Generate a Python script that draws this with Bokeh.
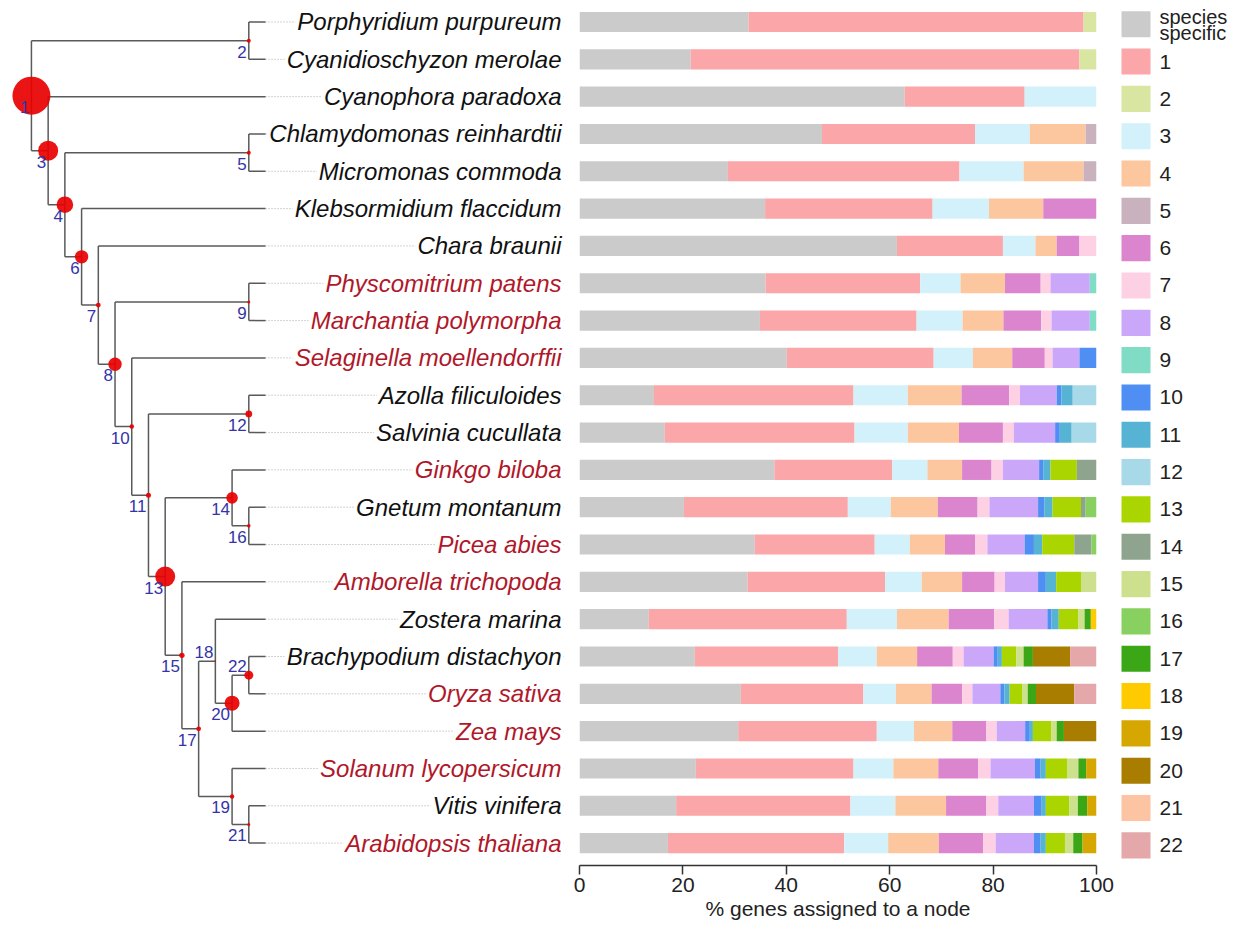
from bokeh.plotting import figure
from bokeh.models import Range1d, FixedTicker, ColumnDataSource
from bokeh.layouts import row
from bokeh.embed import file_html
from bokeh.resources import INLINE
from bokeh.core.properties import value

# ---------------- data ----------------
species = [
    "Porphyridium purpureum", "Cyanidioschyzon merolae", "Cyanophora paradoxa",
    "Chlamydomonas reinhardtii", "Micromonas commoda", "Klebsormidium flaccidum",
    "Chara braunii", "Physcomitrium patens", "Marchantia polymorpha",
    "Selaginella moellendorffii", "Azolla filiculoides", "Salvinia cucullata",
    "Ginkgo biloba", "Gnetum montanum", "Picea abies", "Amborella trichopoda",
    "Zostera marina", "Brachypodium distachyon", "Oryza sativa", "Zea mays",
    "Solanum lycopersicum", "Vitis vinifera", "Arabidopsis thaliana",
]
highlighted = [
    "Physcomitrium patens", "Marchantia polymorpha", "Selaginella moellendorffii",
    "Ginkgo biloba", "Picea abies", "Amborella trichopoda", "Oryza sativa",
    "Zea mays", "Solanum lycopersicum", "Arabidopsis thaliana",
]

categories = ["species specific"] + [str(i) for i in range(1, 23)]
cat_colors = [
    "#cbcbcb", "#fba6a8", "#d8e6a2", "#d3f1fa", "#fcc79f", "#c9b1bd",
    "#dc85cf", "#fdd1e3", "#cba7fa", "#80dcc5", "#4f8ff4", "#56b3d4",
    "#a8d9e8", "#abd500", "#8fa48e", "#cde08e", "#88d05f", "#3ba716",
    "#fdcb00", "#d5a700", "#a87d00", "#fcc4a2", "#e4a7aa",
]

# % genes per node, one list per category (rows follow `species`)
pct_ss  = [32.7, 21.5, 62.9, 46.9, 28.7, 35.9, 61.4, 36.0, 34.9, 40.1, 14.4, 16.5, 37.7, 20.2, 33.9, 32.5, 13.4, 22.3, 31.2, 30.7, 22.5, 18.7, 17.1]
pct_n1  = [64.8, 75.2, 23.2, 29.6, 44.8, 32.4, 20.5, 29.9, 30.3, 28.4, 38.6, 36.7, 22.8, 31.7, 23.2, 26.6, 38.3, 27.7, 23.7, 26.8, 30.5, 33.7, 34.1]
pct_n2  = [2.5, 3.3, 0, 0, 0, 0, 0, 0, 0, 0, 0, 0, 0, 0, 0, 0, 0, 0, 0, 0, 0, 0, 0]
pct_n3  = [0, 0, 13.9, 10.6, 12.4, 10.9, 6.3, 7.8, 8.9, 7.6, 10.5, 10.3, 6.8, 8.3, 6.8, 7.1, 9.7, 7.5, 6.3, 7.2, 7.7, 8.7, 8.5]
pct_n4  = [0, 0, 0, 10.8, 11.6, 10.5, 4.1, 8.6, 7.9, 7.6, 10.4, 9.9, 6.7, 9.1, 6.8, 7.8, 10.0, 7.8, 6.9, 7.4, 8.7, 9.8, 9.8]
pct_n5  = [0, 0, 0, 2.1, 2.5, 0, 0, 0, 0, 0, 0, 0, 0, 0, 0, 0, 0, 0, 0, 0, 0, 0, 0]
pct_n6  = [0, 0, 0, 0, 0, 10.3, 4.4, 6.9, 7.3, 6.3, 9.2, 8.5, 5.7, 7.7, 5.8, 6.3, 8.8, 6.9, 5.9, 6.6, 7.7, 7.8, 8.6]
pct_n7  = [0, 0, 0, 0, 0, 0, 3.3, 1.9, 2.0, 1.5, 2.1, 2.1, 2.2, 2.3, 2.4, 2.0, 2.8, 2.1, 2.0, 2.0, 2.4, 2.3, 2.4]
pct_n8  = [0, 0, 0, 0, 0, 0, 0, 7.6, 7.4, 5.2, 7.1, 8.0, 7.0, 9.4, 7.2, 6.4, 7.5, 5.8, 5.4, 5.5, 8.6, 6.9, 7.4]
pct_n9  = [0, 0, 0, 0, 0, 0, 0, 1.3, 1.3, 0, 0, 0, 0, 0, 0, 0, 0, 0, 0, 0, 0, 0, 0]
pct_n10 = [0, 0, 0, 0, 0, 0, 0, 0, 0, 3.3, 0.9, 0.9, 0.8, 1.2, 1.8, 1.5, 0.8, 0.8, 0.8, 0.9, 1.1, 1.5, 1.3]
pct_n11 = [0, 0, 0, 0, 0, 0, 0, 0, 0, 0, 2.2, 2.3, 1.4, 1.6, 1.6, 2.0, 1.4, 0.8, 1.0, 0.6, 1.0, 0.8, 1.0]
pct_n12 = [0, 0, 0, 0, 0, 0, 0, 0, 0, 0, 4.6, 4.8, 0, 0, 0, 0, 0, 0, 0, 0, 0, 0, 0]
pct_n13 = [0, 0, 0, 0, 0, 0, 0, 0, 0, 0, 0, 0, 5.1, 5.5, 6.2, 4.8, 3.8, 2.8, 2.5, 3.6, 4.2, 4.5, 3.7]
pct_n14 = [0, 0, 0, 0, 0, 0, 0, 0, 0, 0, 0, 0, 3.8, 0.9, 3.3, 0, 0, 0, 0, 0, 0, 0, 0]
pct_n15 = [0, 0, 0, 0, 0, 0, 0, 0, 0, 0, 0, 0, 0, 0, 0, 3.0, 1.2, 1.4, 1.0, 1.0, 2.1, 1.7, 1.6]
pct_n16 = [0, 0, 0, 0, 0, 0, 0, 0, 0, 0, 0, 0, 0, 2.1, 1.0, 0, 0, 0, 0, 0, 0, 0, 0]
pct_n17 = [0, 0, 0, 0, 0, 0, 0, 0, 0, 0, 0, 0, 0, 0, 0, 0, 1.2, 1.8, 1.6, 1.4, 1.5, 1.8, 1.8]
pct_n18 = [0, 0, 0, 0, 0, 0, 0, 0, 0, 0, 0, 0, 0, 0, 0, 0, 1.1, 0, 0, 0, 0, 0, 0]
pct_n19 = [0, 0, 0, 0, 0, 0, 0, 0, 0, 0, 0, 0, 0, 0, 0, 0, 0, 0, 0, 0, 2.0, 1.8, 2.7]
pct_n20 = [0, 0, 0, 0, 0, 0, 0, 0, 0, 0, 0, 0, 0, 0, 0, 0, 0, 7.2, 7.4, 6.3, 0, 0, 0]
pct_n21 = [0, 0, 0, 0, 0, 0, 0, 0, 0, 0, 0, 0, 0, 0, 0, 0, 0, 0, 0, 0, 0, 0, 0]
pct_n22 = [0, 0, 0, 0, 0, 0, 0, 0, 0, 0, 0, 0, 0, 0, 0, 0, 0, 5.1, 4.3, 0, 0, 0, 0]

series = [pct_ss, pct_n1, pct_n2, pct_n3, pct_n4, pct_n5, pct_n6, pct_n7, pct_n8,
          pct_n9, pct_n10, pct_n11, pct_n12, pct_n13, pct_n14, pct_n15, pct_n16,
          pct_n17, pct_n18, pct_n19, pct_n20, pct_n21, pct_n22]

# tree topology (internal node id -> children; strings are leaves)
tree_children = {
    1: [2, 3],
    2: ["Porphyridium purpureum", "Cyanidioschyzon merolae"],
    3: ["Cyanophora paradoxa", 4],
    4: [5, 6],
    5: ["Chlamydomonas reinhardtii", "Micromonas commoda"],
    6: ["Klebsormidium flaccidum", 7],
    7: ["Chara braunii", 8],
    8: [9, 10],
    9: ["Physcomitrium patens", "Marchantia polymorpha"],
    10: ["Selaginella moellendorffii", 11],
    11: [12, 13],
    12: ["Azolla filiculoides", "Salvinia cucullata"],
    13: [14, 15],
    14: ["Ginkgo biloba", 16],
    16: ["Gnetum montanum", "Picea abies"],
    15: ["Amborella trichopoda", 17],
    17: [18, 19],
    18: ["Zostera marina", 20],
    20: [22, "Zea mays"],
    22: ["Brachypodium distachyon", "Oryza sativa"],
    19: ["Solanum lycopersicum", 21],
    21: ["Vitis vinifera", "Arabidopsis thaliana"],
}
# circle radius (px) drawn at each node
node_radius = {1: 19, 2: 2, 3: 10, 4: 8.3, 5: 2, 6: 6.7, 7: 2.4, 8: 6.7, 9: 1.5,
               10: 2.3, 11: 2.5, 12: 3.4, 13: 10, 14: 5.8, 15: 2.7, 16: 1.8,
               17: 2.4, 18: 0.8, 19: 2.2, 20: 7.5, 21: 1.5, 22: 4.5}
labels_above = [18, 22]

# ---------------- layout constants ----------------
H = 940
BOTTOM = 75
yr = Range1d(start=22.60, end=-0.576)

# ---------------- tree layout ----------------
row_of = {s: i for i, s in enumerate(species)}
height, ypos = {}, {}


def layout(n):
    if isinstance(n, str):
        return 0, row_of[n]
    res = [layout(c) for c in tree_children[n]]
    h = 1 + max(r[0] for r in res)
    ys = [r[1] for r in res]
    height[n] = h
    ypos[n] = (min(ys) + max(ys)) / 2.0
    return h, ypos[n]


layout(1)


def nx(n):
    return 0 if isinstance(n, str) else -height[n]


def ny(n):
    return row_of[n] if isinstance(n, str) else ypos[n]


x0s, y0s, x1s, y1s = [], [], [], []
for n, ch in tree_children.items():
    cy = [ny(c) for c in ch]
    x0s.append(nx(n)); y0s.append(min(cy)); x1s.append(nx(n)); y1s.append(max(cy))
    for c in ch:
        x0s.append(nx(n)); y0s.append(ny(c)); x1s.append(nx(c)); y1s.append(ny(c))

nodes = sorted(tree_children.keys())
node_src = ColumnDataSource(dict(
    x=[nx(n) for n in nodes], y=[ny(n) for n in nodes],
    size=[2 * node_radius[n] for n in nodes],
    label=[str(n) for n in nodes],
    yoff=[-9 if n in labels_above else 11 for n in nodes],
))

LABEL_X = 17.82
tree = figure(width=570, height=H, x_range=Range1d(-15.85, 18.24), y_range=yr,
              toolbar_location=None, output_backend="svg",
              x_axis_location=None, y_axis_location=None,
              min_border_left=0, min_border_right=0, min_border_top=0,
              min_border_bottom=BOTTOM)
tree.outline_line_color = None
tree.grid.visible = False

tree.segment(x0=[0] * len(species), y0=list(range(len(species))),
             x1=[LABEL_X] * len(species), y1=list(range(len(species))),
             line_color="#a8a8a8", line_width=1, line_dash="1 2")
tree.segment(x0=x0s, y0=y0s, x1=x1s, y1=y1s, line_color="#5a5a5a", line_width=1.5)
tree.scatter(x="x", y="y", size="size", source=node_src, marker="circle",
             fill_color="#e80000", fill_alpha=0.92, line_color=None)
tree.text(x="x", y="y", text="label", source=node_src, x_offset=-2, y_offset="yoff",
          text_align="right", text_baseline="middle", text_color="#3434a8",
          text_font=value("Liberation Sans"), text_font_size="17px")

leaf_src = ColumnDataSource(dict(
    x=[LABEL_X] * len(species), y=list(range(len(species))), text=species,
    color=["#b0182a" if s in highlighted else "#111111" for s in species],
))
tree.text(x="x", y="y", text="text", source=leaf_src, text_align="right",
          text_baseline="middle", text_color="color", text_font_style="italic",
          text_font=value("Liberation Sans"), text_font_size="24px",
          background_fill_color="white", padding=2)

# ---------------- bars ----------------
bar_data = {"y": list(range(len(species)))}
for c, vals in zip(categories, series):
    bar_data[c] = vals
bar_src = ColumnDataSource(bar_data)

bars = figure(width=544, height=H, x_range=Range1d(0, 100), y_range=yr,
              toolbar_location=None, output_backend="svg", y_axis_location=None,
              min_border_left=9, min_border_right=18, min_border_top=0,
              min_border_bottom=BOTTOM)
bars.outline_line_color = None
bars.grid.visible = False
bars.hbar_stack(categories, y="y", height=0.54, fill_color=cat_colors,
                line_color=None, source=bar_src)
ax = bars.xaxis[0]
ax.ticker = FixedTicker(ticks=[0, 20, 40, 60, 80, 100])
ax.axis_label = "% genes assigned to a node"
ax.axis_label_text_font = "Liberation Sans"
ax.axis_label_text_font_style = "normal"
ax.axis_label_text_font_size = "21px"
ax.axis_label_text_color = "#222222"
ax.axis_label_standoff = 2
ax.major_label_text_font = "Liberation Sans"
ax.major_label_text_font_size = "21px"
ax.major_label_text_color = "#222222"
ax.major_label_standoff = 3
ax.axis_line_color = "#333333"
ax.axis_line_width = 1.5
ax.major_tick_line_color = "#333333"
ax.major_tick_line_width = 1.5
ax.major_tick_in = 0
ax.major_tick_out = 9
ax.minor_tick_line_color = None

# ---------------- legend ----------------
leg = figure(width=125, height=H, x_range=Range1d(0, 125), y_range=yr,
             toolbar_location=None, output_backend="svg",
             x_axis_location=None, y_axis_location=None,
             min_border_left=0, min_border_right=0, min_border_top=0,
             min_border_bottom=BOTTOM)
leg.outline_line_color = None
leg.grid.visible = False
leg_y = [i + 0.06 for i in range(len(categories))]
leg.rect(x=[21.5] * len(categories), y=leg_y, width=29, height=0.70,
         fill_color=cat_colors, line_color=None)
leg.text(x=[45] * (len(categories) - 1), y=leg_y[1:], text=categories[1:],
         text_align="left", text_baseline="middle", text_color="#222222",
         text_font=value("Liberation Sans"), text_font_size="21px")
leg.text(x=[45, 45], y=[-0.14, 0.29], text=["species", "specific"],
         text_align="left", text_baseline="middle", text_color="#222222",
         text_font=value("Liberation Sans"), text_font_size="20px")

page = row(tree, bars, leg)
open("out.html", "w").write(file_html(page, INLINE))
